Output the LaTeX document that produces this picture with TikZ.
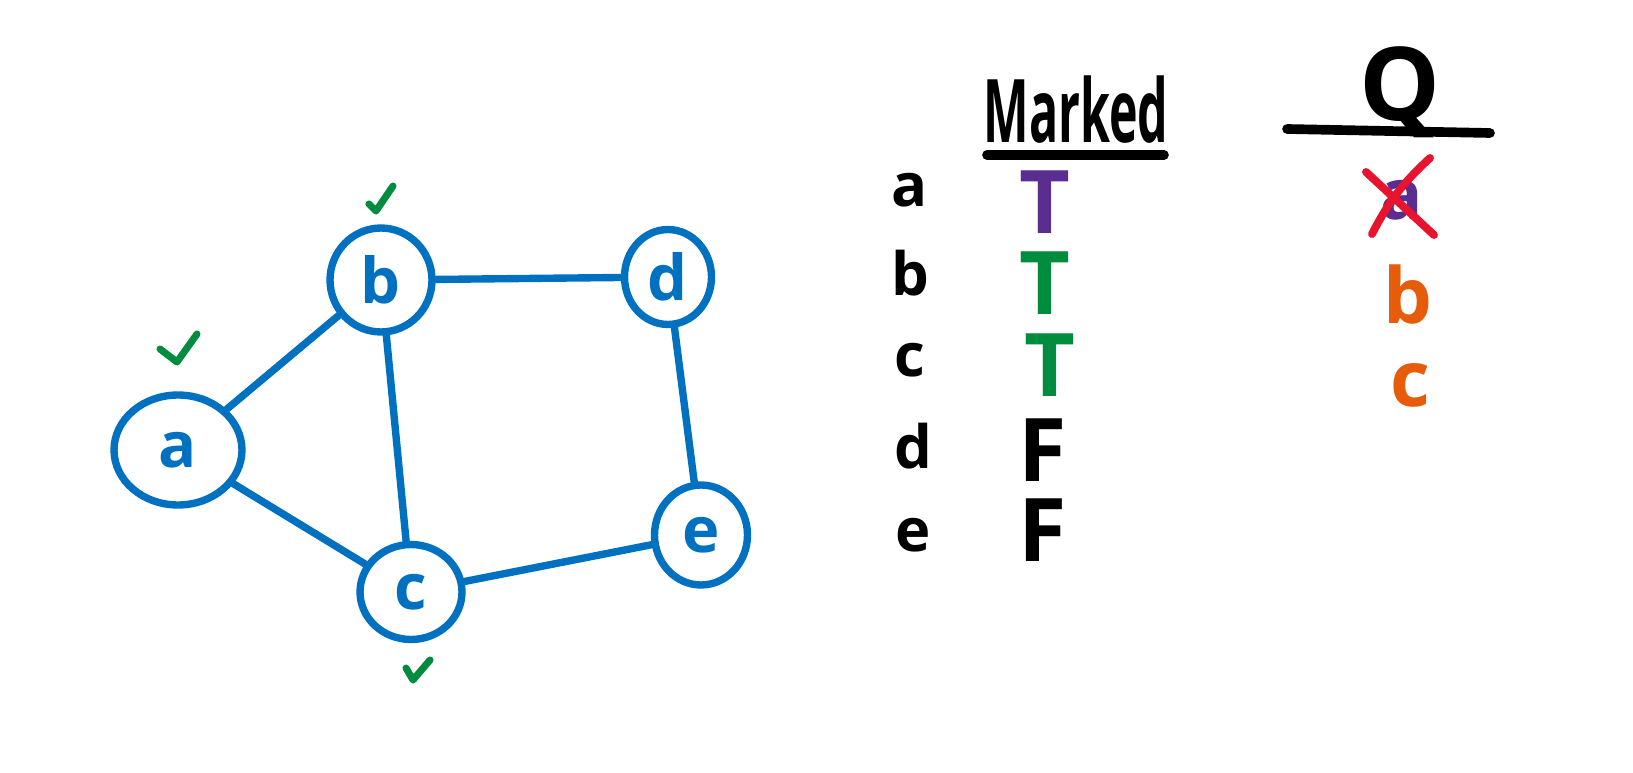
\documentclass[tikz,border=0pt]{standalone}
\usepackage{fontspec}
\setmainfont{Open Sans}
\usetikzlibrary{shapes.geometric}
\definecolor{gblue}{RGB}{0,112,192}
\definecolor{ggreen}{RGB}{0,140,62}
\definecolor{gpurple}{RGB}{90,45,145}
\definecolor{gorange}{RGB}{230,92,10}
\definecolor{gred}{RGB}{232,20,45}
\begin{document}
\begin{tikzpicture}[x=0.02cm,y=-0.02cm,
  vert/.style={ellipse,draw=gblue,line width=4.2pt,text=gblue,inner sep=0pt,
     font=\fontsize{36}{40}\selectfont\bfseries},
  edge/.style={draw=gblue,line width=4.2pt,line cap=round},
  tick/.style={draw=ggreen,line width=4pt,line cap=round,line join=round},
  lbl/.style={font=\fontsize{34}{38}\selectfont\bfseries,inner sep=0pt},
  val/.style={font=\fontsize{50}{54}\selectfont\bfseries,inner sep=0pt},
  qv/.style={text=gorange,font=\fontsize{44}{46}\selectfont\bfseries,inner sep=0pt},
  ink/.style={line width=4.5pt,line cap=round}]
\useasboundingbox (0,0) rectangle (1633,773);
% graph vertices
\node[vert,minimum width=2.56cm,minimum height=2.2cm] (a) at (178,450) {a};
\node[vert,minimum width=2.04cm,minimum height=2.08cm] (b) at (381,280) {b};
\node[vert,minimum width=1.74cm,minimum height=1.9cm] (d) at (668,277) {d};
\node[vert,minimum width=2.04cm,minimum height=1.9cm] (c) at (411,592) {c};
\node[vert,minimum width=1.86cm,minimum height=2.0cm] (e) at (701,535) {e};
% edges
\draw[edge] (a) -- (b);
\draw[edge] (a) -- (c);
\draw[edge] (b) -- (d);
\draw[edge] (b) -- (c);
\draw[edge] (d) -- (e);
\draw[edge] (c) -- (e);
% check marks
\draw[tick] (160,349) -- (177,362) -- (197,334);
\draw[tick] (369,204) -- (376,211) -- (393,186);
\draw[tick] (406,668) -- (413,680) -- (430,660);
% Marked table
\node[inner sep=0pt,font=\fontsize{50}{54}\selectfont\bfseries] (mk) at (1076,110) {\scalebox{0.55}[1]{Marked}};
\coordinate (mkl) at (987,155);
\coordinate (mkr) at (1164,155);
\draw[ink,line width=5.5pt] (mkl) -- (mkr);
\node[lbl] (la) at (910,190) {a};
\node[lbl] (lb) at (910,273) {b};
\node[lbl] (lc) at (910,360) {c};
\node[lbl] (ld) at (913,446) {d};
\node[lbl] (le) at (913,535) {e};
\node[val,text=gpurple] (ta) at (1045,202) {T};
\node[val,text=ggreen] (tb) at (1045,283) {T};
\node[val,text=ggreen] (tc) at (1050,365) {T};
\node[val] (fd) at (1043,450) {F};
\node[val] (fe) at (1043,530) {F};
% Queue
\node[inner sep=0pt,font=\fontsize{58}{62}\selectfont\bfseries] (q) at (1400,92) {Q};
\coordinate (ql) at (1287,129);
\coordinate (qr) at (1490,133);
\draw[ink,line width=5.5pt] (ql) -- (qr);
\node[lbl,text=gpurple,font=\fontsize{40}{44}\selectfont\bfseries] (qa) at (1402,200) {a};
\coordinate (x1) at (1366,172);
\coordinate (x2) at (1434,235);
\coordinate (x3) at (1372,234);
\coordinate (x4) at (1430,158);
\draw[gred,ink] (x1) -- (x2);
\draw[gred,ink] (x3) to[bend left=10] (x4);
\node[qv] (qb) at (1408,295) {b};
\node[qv] (qc) at (1410,385) {c};
\end{tikzpicture}
\end{document}
